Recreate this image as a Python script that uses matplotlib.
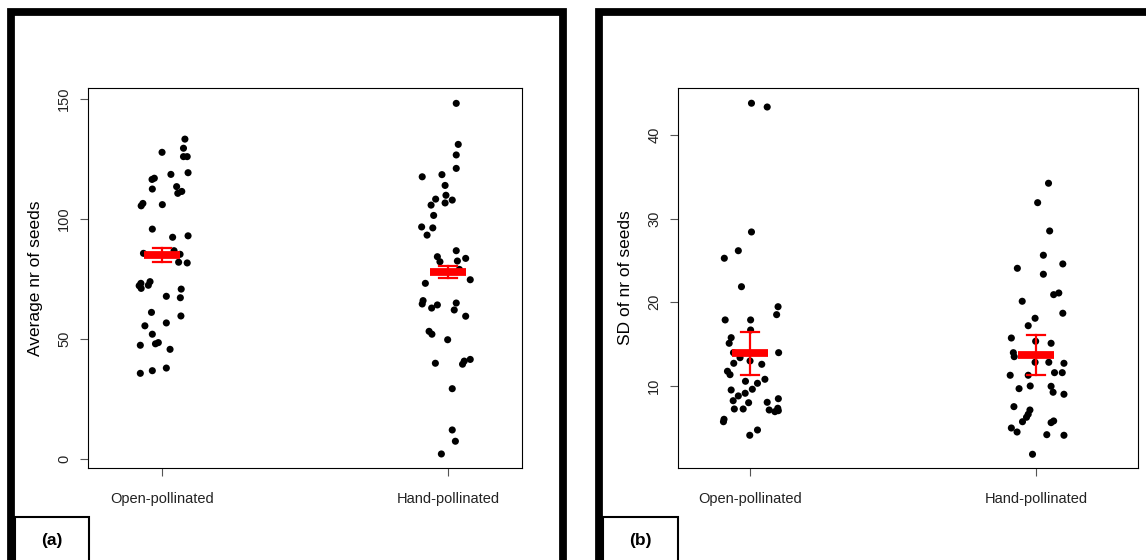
import matplotlib
matplotlib.use("Agg")
import matplotlib.pyplot as plt
from matplotlib.patches import Rectangle
import numpy as np

plt.rcParams['font.family'] = ['Liberation Sans', 'DejaVu Sans']

# ---------------- data ----------------
categories = ["Open-pollinated", "Hand-pollinated"]

a_open_y = [133.3,129.5,127.8,126.0,126.0,119.3,118.6,116.5,117.0,113.5,112.5,111.5,110.7,106.5,105.5,106.0,
            95.8,92.4,93.0,85.7,86.8,85.3,82.0,81.7,73.2,72.2,71.1,73.9,72.4,70.8,67.8,67.2,61.1,59.6,55.5,
            56.7,52.0,47.4,48.0,48.5,45.7,35.7,36.8,37.9]
a_open_jit = [0.080,0.075,0.0,0.075,0.088,0.091,0.031,-0.035,-0.027,0.051,-0.034,0.069,0.055,-0.067,-0.073,
              0.001,-0.034,0.037,0.091,-0.065,0.042,0.063,0.058,0.088,-0.074,-0.080,-0.073,-0.042,-0.048,0.067,
              0.015,0.064,-0.037,0.066,-0.060,0.015,-0.034,-0.076,-0.023,-0.013,0.028,-0.076,-0.034,0.015]
a_hand_y = [148.2,131.1,126.7,121.1,117.6,118.5,114.0,109.9,108.3,105.8,106.7,107.9,101.5,96.7,96.3,93.3,
            86.8,84.3,82.2,82.5,83.6,79.0,74.7,73.2,66.0,64.6,62.9,64.2,65.0,62.1,59.5,53.2,52.0,49.7,39.9,
            39.5,40.8,41.5,29.3,12.1,7.4,2.1]
a_hand_jit = [0.029,0.036,0.029,0.029,-0.090,-0.021,-0.010,-0.007,-0.043,-0.059,-0.010,0.015,-0.050,-0.092,
              -0.053,-0.073,0.029,-0.037,-0.028,0.033,0.062,0.040,0.078,-0.079,-0.087,-0.090,-0.057,-0.037,
              0.029,0.022,0.062,-0.066,-0.056,-0.001,-0.044,0.051,0.057,0.078,0.015,0.015,0.026,-0.023]
a_means = [85.0, 78.0]
a_err = [2.9, 2.45]

b_open_y = [43.78,43.33,28.40,26.16,25.26,21.86,19.47,18.52,17.89,17.89,16.69,15.77,15.10,13.98,13.98,12.71,
            12.59,12.99,13.38,11.76,11.35,10.56,10.80,10.32,9.52,9.61,9.13,8.81,8.24,8.00,8.48,7.25,7.25,8.05,
            7.13,6.93,7.34,7.05,6.02,5.73,4.74,4.11]
b_open_jit = [0.005,0.060,0.005,-0.041,-0.090,-0.030,0.098,0.093,-0.087,0.002,0.002,-0.066,-0.073,-0.058,
              0.100,-0.057,0.041,0.0,-0.035,-0.079,-0.070,-0.016,0.052,0.026,-0.066,0.008,-0.017,-0.041,
              -0.059,-0.005,0.099,-0.055,-0.024,0.060,0.067,0.087,0.097,0.099,-0.091,-0.093,0.026,-0.001]
b_hand_y = [34.22,31.90,28.52,25.62,24.58,24.06,23.35,20.91,21.11,20.12,18.69,18.09,17.20,15.73,15.34,15.10,
            13.98,13.50,12.83,12.83,12.71,11.28,11.28,11.59,11.59,9.68,10.0,9.96,9.25,9.01,7.53,7.13,6.62,6.26,
            5.73,5.62,5.82,4.98,4.50,4.18,4.11,1.84]
b_hand_jit = [0.044,0.006,0.048,0.026,0.094,-0.065,0.026,0.062,0.080,-0.048,0.094,-0.003,-0.027,-0.086,
              -0.001,0.053,-0.079,-0.076,-0.003,0.045,0.098,-0.090,-0.027,0.065,0.092,-0.059,-0.020,0.053,
              0.060,0.098,-0.077,-0.021,-0.027,-0.033,-0.047,0.053,0.062,-0.086,-0.066,0.038,0.098,-0.012]
b_means = [13.9, 13.7]
b_err = [2.6, 2.4]

a_yticks = [0, 50, 100, 150]
b_yticks = [10, 20, 30, 40]

# ---------------- figure ----------------
W, H = 1146, 560
fig = plt.figure(figsize=(W / 100, H / 100), dpi=100)
fig.patch.set_facecolor("white")

def fx(x):
    return x / W

def fy(y):
    return 1 - y / H

def panel(rect, xlim, ylim, yticks, ylabel, groups, means, errs):
    ax = fig.add_axes(rect)
    for i, (ys, jit) in enumerate(groups):
        xs = [i + 1 + j for j in jit]
        ax.scatter(xs, ys, s=26, color="black", edgecolors="none", zorder=2)
    for i, (m, e) in enumerate(zip(means, errs)):
        x0 = i + 1
        ax.plot([x0 - 0.063, x0 + 0.063], [m, m], color="red", lw=5.6, solid_capstyle="butt", zorder=3)
        ax.plot([x0, x0], [m - e, m + e], color="red", lw=1.6, zorder=3)
        for yy in (m - e, m + e):
            ax.plot([x0 - 0.032, x0 + 0.032], [yy, yy], color="red", lw=1.6, zorder=3)
    ax.set_xlim(*xlim)
    ax.set_ylim(*ylim)
    ax.set_xticks([1, 2])
    ax.set_xticklabels(categories, fontsize=10.5, color="#222222")
    ax.set_yticks(yticks)
    ax.set_yticklabels([str(t) for t in yticks], fontsize=10.5, rotation=90, va="center", color="#222222")
    ax.tick_params(axis="both", length=6, width=0.8, color="#555555", pad=6)
    ax.tick_params(axis="x", pad=11)
    ax.set_ylabel(ylabel, fontsize=12.5, labelpad=10)
    for sp in ax.spines.values():
        sp.set_linewidth(0.8)
        sp.set_color("black")
    return ax

rect_a = [fx(88), fy(468), fx(522) - fx(88), fy(88) - fy(468)]
rect_b = [fx(678), fy(468), fx(1138) - fx(678), fy(88) - fy(468)]

panel(rect_a, (0.741, 2.259), (-3.75, 154.6), a_yticks, "Average nr of seeds",
      [(a_open_y, a_open_jit), (a_hand_y, a_hand_jit)], a_means, a_err)
panel(rect_b, (0.748, 2.357), (0.2, 45.6), b_yticks, "SD of nr of seeds",
      [(b_open_y, b_open_jit), (b_hand_y, b_hand_jit)], b_means, b_err)

# thick outer panel frames
for (x0, x1) in [(11.2, 563.0), (599.0, 1160.0)]:
    fig.add_artist(Rectangle((fx(x0), fy(600)), fx(x1) - fx(x0), fy(12.2) - fy(600),
                             transform=fig.transFigure, fill=False, ec="black", lw=5.6,
                             joinstyle="miter", clip_on=False))

# label boxes
for (x0, x1, txt) in [(15, 89.3, "(a)"), (603, 678.3, "(b)")]:
    fig.add_artist(Rectangle((fx(x0), fy(600)), fx(x1) - fx(x0), fy(517) - fy(600),
                             transform=fig.transFigure, fill=False, ec="black", lw=1.5, clip_on=False))
    fig.text(fx((x0 + x1) / 2), fy(541), txt, ha="center", va="center", fontsize=12.5,
             fontweight="bold")

fig.savefig("out.png", dpi=100, facecolor="white")
